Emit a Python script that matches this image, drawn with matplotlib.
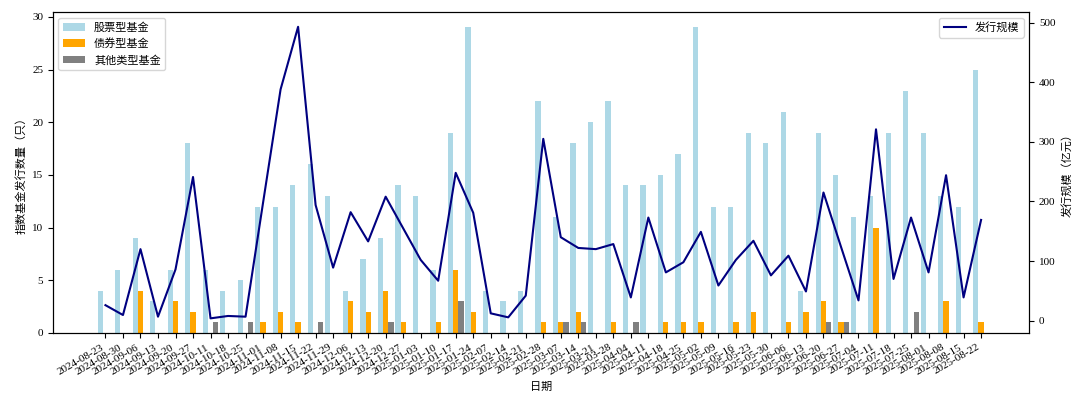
import matplotlib.pyplot as plt
import numpy as np

plt.rcParams['font.family'] = ['Liberation Serif', 'Noto Sans CJK SC']
plt.rcParams['font.size'] = 8
plt.rcParams['axes.unicode_minus'] = False

dates = ['2024-08-23', '2024-08-30', '2024-09-06', '2024-09-13', '2024-09-20', '2024-09-27',
         '2024-10-11', '2024-10-18', '2024-10-25', '2024-11-01', '2024-11-08', '2024-11-15',
         '2024-11-22', '2024-11-29', '2024-12-06', '2024-12-13', '2024-12-20', '2024-12-27',
         '2025-01-03', '2025-01-10', '2025-01-17', '2025-01-24', '2025-02-07', '2025-02-14',
         '2025-02-21', '2025-02-28', '2025-03-07', '2025-03-14', '2025-03-21', '2025-03-28',
         '2025-04-04', '2025-04-11', '2025-04-18', '2025-04-25', '2025-05-02', '2025-05-09',
         '2025-05-16', '2025-05-23', '2025-05-30', '2025-06-06', '2025-06-13', '2025-06-20',
         '2025-06-27', '2025-07-04', '2025-07-11', '2025-07-18', '2025-07-25', '2025-08-01',
         '2025-08-08', '2025-08-15', '2025-08-22']

# 股票型基金
stock = [4, 6, 9, 3, 6, 18, 6, 4, 5, 12, 12, 14, 16, 13, 4, 7, 9, 14,
         13, 6, 19, 29, 4, 3, 4, 22, 11, 18, 20, 22, 14, 14, 15, 17, 29, 12,
         12, 19, 18, 21, 4, 19, 15, 11, 13, 19, 23, 19, 13, 12, 25]
# 债券型基金
bond = [0, 0, 4, 0, 3, 2, 0, 0, 0, 1, 2, 1, 0, 0, 3, 2, 4, 1,
        0, 1, 6, 2, 0, 0, 0, 1, 1, 2, 0, 1, 0, 0, 1, 1, 1, 0,
        1, 2, 0, 1, 2, 3, 1, 0, 10, 0, 0, 0, 3, 0, 1]
# 其他类型基金
other = [0, 0, 0, 0, 0, 0, 1, 0, 1, 0, 0, 0, 1, 0, 0, 0, 1, 0,
         0, 0, 3, 0, 0, 0, 0, 0, 1, 1, 0, 0, 1, 0, 0, 0, 0, 0,
         0, 0, 0, 0, 0, 1, 1, 0, 0, 0, 2, 0, 0, 0, 0]
# 发行规模（亿元）
scale = [26, 9.5, 120, 6.7, 86, 241, 3.9, 7.9, 6.7, 198, 388, 493, 194, 89, 182, 133, 208, 155,
         102, 67, 248, 181, 12.3, 5.6, 42, 305, 140, 122, 120, 128.5, 39, 173, 81, 98, 149, 59,
         102, 134, 76, 109, 49, 215, 124, 34, 321, 70, 173, 81, 244, 39, 169]

x = np.arange(len(dates))
width = 0.3

fig, ax1 = plt.subplots(figsize=(10.8, 3.94), dpi=100)
ax1.bar(x - width, stock, width, color='lightblue', label='股票型基金')
ax1.bar(x, bond, width, color='orange', label='债券型基金')
ax1.bar(x + width, other, width, color='gray', label='其他类型基金')
ax1.set_xlabel('日期')
ax1.set_ylabel('指数基金发行数量（只）')
ax1.set_xticks(x)
ax1.set_xticklabels(dates, rotation=30, ha='right')
ax1.legend(loc='upper left')

ax2 = ax1.twinx()
ax2.plot(x, scale, color='navy', linewidth=1.5, label='发行规模')
ax2.set_ylabel('发行规模（亿元）')
ax2.legend(loc='upper right')

ax1.set_xlim(-3.0, 52.75)
fig.subplots_adjust(left=0.049, right=0.953, top=0.969, bottom=0.155)
plt.savefig('out.png')
